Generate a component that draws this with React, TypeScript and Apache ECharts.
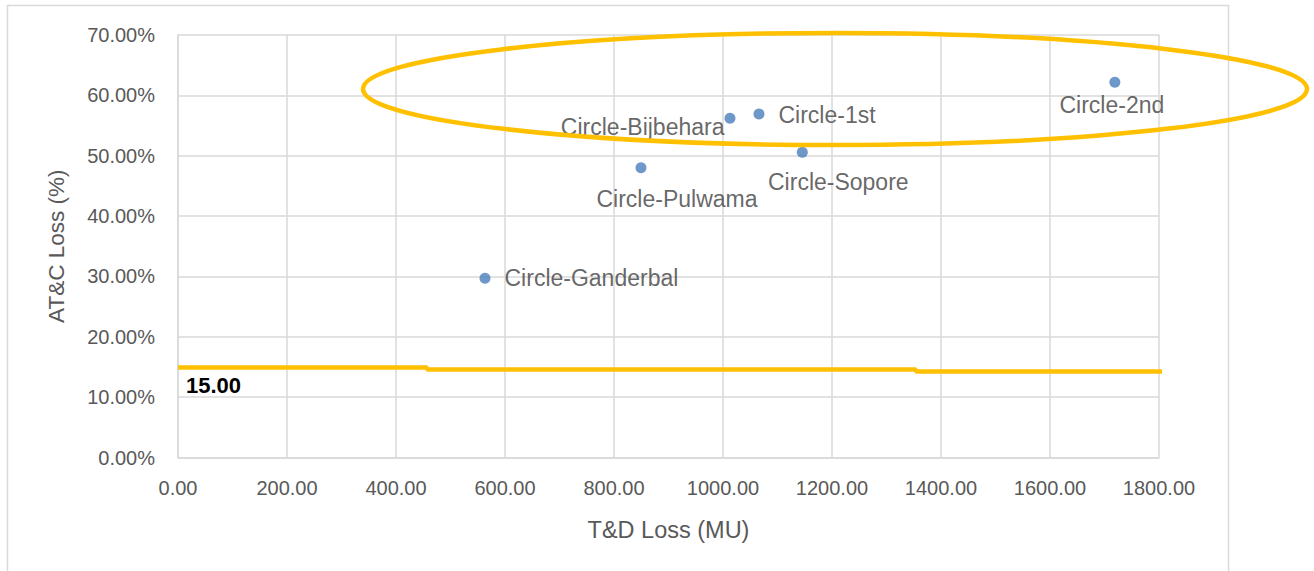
import React, { useEffect, useRef } from "react";
import * as echarts from "echarts";

const circleNames = ["Circle-Ganderbal", "Circle-Pulwama", "Circle-Bijbehara", "Circle-1st", "Circle-Sopore", "Circle-2nd"];
const tdLossMU = [563.3, 849.5, 1012.8, 1066.0, 1145.5, 1719.0];
const atcLossPct = [29.69, 48.0, 56.2, 56.9, 50.56, 62.16];

// hand-drawn target line at ~15%
const targetLineX = [0, 457, 457, 1354, 1354, 1813];
const targetLineY = [14.9, 14.9, 14.58, 14.58, 14.25, 14.25];
const targetLabel = "15.00";

const FONT = "Liberation Sans";

export default function App() {
  const ref = useRef<HTMLDivElement>(null);
  useEffect(() => {
    const chart = echarts.init(ref.current!, undefined, { renderer: "svg" });
    const labelCfg: any[] = [
      { position: "right", distance: 14, offset: [0, 0] },
      { position: "bottom", distance: 5, offset: [36, 9] },
      { position: "left", distance: 5, offset: [5, 9] },
      { position: "right", distance: 14, offset: [0, 1] },
      { position: "bottom", distance: 5, offset: [36, 8] },
      { position: "bottom", distance: 5, offset: [-3, 1] },
    ];
    const scatterData = circleNames.map((n, i) => ({
      name: n,
      value: [tdLossMU[i], atcLossPct[i]],
      label: labelCfg[i],
    }));
    const gridColor = "#D9D9D9";
    chart.setOption({
      animation: false,
      backgroundColor: "#ffffff",
      grid: { left: 178, right: 155, top: 35, bottom: 113.5 },
      xAxis: {
        type: "value",
        min: 0,
        max: 1800,
        interval: 200,
        name: "T&D Loss (MU)",
        nameLocation: "middle",
        nameGap: 60,
        nameTextStyle: { fontFamily: FONT, fontSize: 23.5, color: "#595959" },
        axisLine: { show: true, lineStyle: { color: gridColor, width: 1.5 } },
        axisTick: { show: false },
        axisLabel: {
          fontFamily: FONT,
          fontSize: 20,
          color: "#595959",
          margin: 20,
          formatter: (v: number) => v.toFixed(2),
        },
        splitLine: { show: true, lineStyle: { color: gridColor, width: 1.5 } },
      },
      yAxis: {
        type: "value",
        min: 0,
        max: 70,
        interval: 10,
        name: "AT&C Loss (%)",
        nameLocation: "middle",
        nameRotate: 90,
        nameGap: 110,
        nameTextStyle: { fontFamily: FONT, fontSize: 22.5, color: "#595959" },
        axisLine: { show: true, lineStyle: { color: gridColor, width: 1.5 } },
        axisTick: { show: false },
        axisLabel: {
          fontFamily: FONT,
          fontSize: 20,
          color: "#595959",
          margin: 23,
          formatter: (v: number) => v.toFixed(2) + "%",
        },
        splitLine: { show: true, lineStyle: { color: gridColor, width: 1.5 } },
      },
      series: [
        {
          type: "line",
          data: targetLineX.map((x, i) => [x, targetLineY[i]]),
          showSymbol: false,
          symbol: "none",
          clip: false,
          lineStyle: { color: "#FFC000", width: 4.5 },
          z: 3,
          silent: true,
        },
        {
          type: "scatter",
          data: scatterData,
          symbolSize: 11,
          itemStyle: { color: "#4A7EBB" },
          z: 5,
          label: {
            show: true,
            formatter: (p: any) => p.name,
            fontFamily: FONT,
            fontSize: 23,
            color: "#404040",
          },
        },
      ],
      graphic: [
        {
          type: "rect",
          shape: { x: 7.5, y: 5.5, width: 1221, height: 600 },
          style: { fill: "none", stroke: "#D9D9D9", lineWidth: 1.5 },
          silent: true,
          z: 0,
        },
        {
          type: "ellipse",
          shape: { cx: 835, cy: 89, rx: 472, ry: 56 },
          style: { fill: "none", stroke: "#FFC000", lineWidth: 4.5 },
          silent: true,
          z: 10,
        },
        {
          type: "text",
          left: 186,
          top: 374,
          style: {
            text: targetLabel,
            font: `bold 22px "${FONT}"`,
            fill: "#000000",
          },
          z: 10,
        },
      ],
    });
    return () => chart.dispose();
  }, []);
  return (
    <div
      ref={ref}
      style={{ position: "fixed", left: 0, top: 0, width: 1314, height: 571, background: "#fff" }}
    />
  );
}
